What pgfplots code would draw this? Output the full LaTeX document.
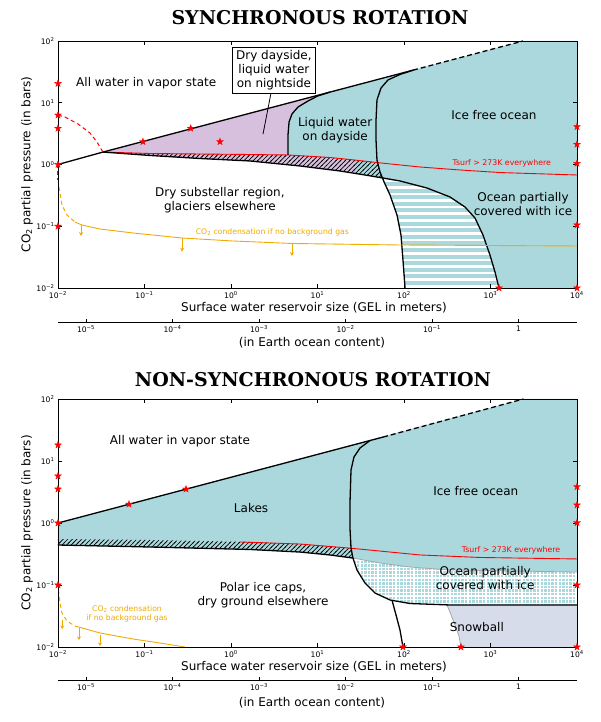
\documentclass[border=0pt]{standalone}
\usepackage{fontspec}
\setmainfont{DejaVu Sans}
\newfontfamily\titlefont{DejaVu Serif}
\usepackage{pgfplots}
\pgfplotsset{compat=1.18}
\usetikzlibrary{patterns,arrows.meta}

\definecolor{ocean}{RGB}{170,216,221}
\definecolor{lilac}{RGB}{214,192,222}
\definecolor{snowc}{RGB}{214,220,233}
\definecolor{cond}{RGB}{240,170,0}

\pgfdeclarepatternformonly{hatchNE}{\pgfqpoint{-1pt}{-1pt}}{\pgfqpoint{5.6pt}{5.6pt}}{\pgfqpoint{4.6pt}{4.6pt}}{%
  \pgfsetlinewidth{0.7pt}%
  \pgfpathmoveto{\pgfqpoint{-0.5pt}{-0.5pt}}%
  \pgfpathlineto{\pgfqpoint{5.1pt}{5.1pt}}%
  \pgfusepath{stroke}}
\pgfdeclarepatternformonly{hstripes}{\pgfqpoint{-1pt}{-2pt}}{\pgfqpoint{7.6pt}{2pt}}{\pgfqpoint{6.6pt}{6.6pt}}{%
  \pgfsetlinewidth{2.6pt}%
  \pgfpathmoveto{\pgfqpoint{-1pt}{0pt}}%
  \pgfpathlineto{\pgfqpoint{7.6pt}{0pt}}%
  \pgfusepath{stroke}}
\pgfdeclarepatternformonly{wgrid}{\pgfqpoint{-1pt}{-1pt}}{\pgfqpoint{4.6pt}{4.6pt}}{\pgfqpoint{3.6pt}{3.6pt}}{%
  \pgfsetlinewidth{1.1pt}%
  \pgfpathmoveto{\pgfqpoint{0pt}{-1pt}}\pgfpathlineto{\pgfqpoint{0pt}{4.6pt}}%
  \pgfpathmoveto{\pgfqpoint{-1pt}{0pt}}\pgfpathlineto{\pgfqpoint{4.6pt}{0pt}}%
  \pgfusepath{stroke}}

\pgfdeclareplotmark{fstar}{%
  \pgfpathmoveto{\pgfpointpolar{90}{\pgfplotmarksize}}%
  \pgfpathlineto{\pgfpointpolar{126}{0.42\pgfplotmarksize}}%
  \pgfpathlineto{\pgfpointpolar{162}{\pgfplotmarksize}}%
  \pgfpathlineto{\pgfpointpolar{198}{0.42\pgfplotmarksize}}%
  \pgfpathlineto{\pgfpointpolar{234}{\pgfplotmarksize}}%
  \pgfpathlineto{\pgfpointpolar{270}{0.42\pgfplotmarksize}}%
  \pgfpathlineto{\pgfpointpolar{306}{\pgfplotmarksize}}%
  \pgfpathlineto{\pgfpointpolar{342}{0.42\pgfplotmarksize}}%
  \pgfpathlineto{\pgfpointpolar{18}{\pgfplotmarksize}}%
  \pgfpathlineto{\pgfpointpolar{54}{0.42\pgfplotmarksize}}%
  \pgfpathclose
  \pgfusepathqfillstroke}

\newcommand{\lab}{\fontsize{12}{14}\selectfont}
\newcommand{\sml}{\fontsize{7.8}{9}\selectfont}
\newcommand{\tkf}{\fontsize{7.6}{9}\selectfont}

\begin{document}
\begin{tikzpicture}
\path[use as bounding box] (0,0) rectangle (600pt,722pt);

\begin{axis}[at={(58pt,434pt)}, anchor=south west, scale only axis, width=519pt, height=247pt,
    xmode=log, ymode=log, xmin=1e-2, xmax=1e4, ymin=1e-2, ymax=1e2,
    xtick={1e-2,1e-1,1,10,100,1000,10000},
    xticklabels={10\textsuperscript{−2},10\textsuperscript{−1},10\textsuperscript{0},10\textsuperscript{1},10\textsuperscript{2},10\textsuperscript{3},10\textsuperscript{4}},
    ytick={1e-2,1e-1,1,10,100},
    yticklabels={10\textsuperscript{−2},10\textsuperscript{−1},10\textsuperscript{0},10\textsuperscript{1},10\textsuperscript{2}},
    xminorticks=false, yminorticks=false,
    tick align=inside, major tick length=4pt,
    tick style={black, line width=0.6pt},
    axis line style={line width=0.9pt},
    ticklabel style={font=\tkf},
    axis on top, clip=false]
\addplot[fill=lilac, draw=none] coordinates {(0.0331,1.59) (13.95,14.9) (10.1,12.9) (7.76,10.67) (5.96,8.54) (5.07,6.58) (4.69,4.88) (4.56,3.0) (4.56,1.426) (1.66,1.452) (0.4385,1.479) (0.116,1.507) (0.0331,1.59)};
\addplot[fill=ocean, draw=none] coordinates {(4.56,1.426) (4.56,3.0) (4.69,4.88) (5.07,6.58) (5.96,8.54) (7.76,10.67) (10.1,12.9) (13.95,14.9) (2377,100) (10000,100) (10000,0.01) (102.8,0.01) (97.3,0.0284) (92.3,0.0721) (83.0,0.152) (68.9,0.321) (58.8,0.521) (52.8,0.757) (50,1.07) (27.2,1.18) (13.95,1.298) (4.56,1.426)};
\addplot[fill=lilac, draw=none] coordinates {(0.0331,1.59) (0.116,1.507) (0.4385,1.479) (1.66,1.452) (4.56,1.426) (13.95,1.298) (27.2,1.18) (50,1.07) (52.8,0.757) (57.2,0.604) (35.4,0.676) (18.2,0.785) (6.28,0.946) (1.66,1.14) (0.4385,1.25) (0.116,1.40) (0.0331,1.59)};
\addplot[fill=ocean, draw=none] coordinates {(27.2,1.18) (50,1.07) (52.8,0.757) (57.2,0.604) (35.4,0.676) (27.2,0.715)};
\addplot[pattern=hatchNE, pattern color=black, draw=none] coordinates {(0.0331,1.59) (0.116,1.507) (0.4385,1.479) (1.66,1.452) (4.56,1.426) (13.95,1.298) (27.2,1.18) (50,1.07) (52.8,0.757) (57.2,0.604) (35.4,0.676) (18.2,0.785) (6.28,0.946) (1.66,1.14) (0.4385,1.25) (0.116,1.40) (0.0331,1.59)};
\addplot[pattern=hstripes, pattern color=white, draw=none] coordinates {(57.2,0.604) (58.8,0.521) (68.9,0.321) (83.0,0.152) (92.3,0.0721) (97.3,0.0284) (102.8,0.01) (1254,0.01) (1127,0.01815) (986,0.0342) (819,0.0721) (662,0.136) (507,0.205) (340,0.298) (184.5,0.416) (89.9,0.541) (57.2,0.604)};
\addplot[red, line width=0.9pt] coordinates {(0.0331,1.59) (0.116,1.507) (0.4385,1.479) (1.66,1.452) (4.56,1.426) (13.95,1.298) (27.2,1.18) (50,1.07) (153,0.911) (443.6,0.815) (1288,0.741) (10000,0.676)};
\addplot[black, line width=1.3pt] coordinates {(0.01,1) (0.0331,1.59) (127,33.7)};
\addplot[black, line width=1.3pt, dash pattern=on 5pt off 3pt] coordinates {(127,33.7) (2377,100)};
\addplot[black, line width=1.3pt] coordinates {(4.56,1.426) (4.56,3.0) (4.69,4.88) (5.07,6.58) (5.96,8.54) (7.76,10.67) (10.1,12.9) (13.95,14.9)};
\addplot[black, line width=1.3pt] coordinates {(0.0331,1.59) (0.116,1.40) (0.4385,1.25) (1.66,1.14) (6.28,0.946) (18.2,0.785) (35.4,0.676) (57.2,0.604) (89.9,0.541) (184.5,0.416) (340,0.298) (507,0.205) (662,0.136) (819,0.0721) (986,0.0342) (1127,0.01815) (1254,0.01)};
\addplot[black, line width=1.3pt] coordinates {(127,33.7) (89.9,28.7) (65.3,23.4) (54.2,17.3) (48.7,11.1) (47.5,5.26) (47.5,2.49) (48.7,1.18) (52.8,0.757) (58.8,0.521) (68.9,0.321) (83.0,0.152) (92.3,0.0721) (97.3,0.0284) (102.8,0.01)};
\addplot[cond, line width=0.9pt] coordinates {(0.01574,0.117) (0.01892,0.1047) (0.0306,0.0902) (0.0736,0.0778) (0.2716,0.0645) (1.054,0.0577) (5.07,0.0526) (89.9,0.0497) (10000,0.0479)};
\addplot[cond, line width=0.9pt, -{Stealth[length=4pt,width=4pt]}] coordinates {(0.01845,0.105) (0.01845,0.0695)};
\addplot[cond, line width=0.9pt, -{Stealth[length=4pt,width=4pt]}] coordinates {(0.2716,0.0645) (0.2716,0.0387)};
\addplot[cond, line width=0.9pt, -{Stealth[length=4pt,width=4pt]}] coordinates {(5.07,0.0526) (5.07,0.033)};
\addplot[red, line width=1pt, dash pattern=on 4pt off 3pt] coordinates {(0.01,6.3) (0.01205,5.88) (0.0170,4.53) (0.02344,3.24) (0.02825,2.31) (0.0331,1.59)};
\addplot[red, line width=1pt, dash pattern=on 4pt off 3pt] coordinates {(0.01,1) (0.01,0.56)};
\addplot[cond, line width=1pt, dash pattern=on 4pt off 3pt] coordinates {(0.01027,0.432) (0.01112,0.221) (0.0127,0.152) (0.01574,0.117)};
\addplot[only marks, mark=fstar, mark size=3.6pt, red, mark options={fill=red, draw=red, line width=0.3pt}] coordinates {(0.01,20.5) (0.01,6.3) (0.01,3.85) (0.01,1) (0.01,0.1) (0.096,2.34) (0.342,3.85) (0.746,2.34) (10000,4.1) (10000,2.12) (10000,1.04) (10000,0.105) (10000,0.01) (1254,0.01)};
\node[font=\lab] at (rel axis cs:0.170,0.830) {All water in vapor state};
\draw[black, line width=0.8pt] (rel axis cs:0.410,0.785) -- (rel axis cs:0.395,0.623);
\node[font=\lab, align=center, draw=black, fill=white, line width=0.8pt, inner sep=3.5pt] at (rel axis cs:0.416,0.881) {Dry dayside,\\liquid water\\on nightside};
\node[font=\lab, align=center] at (rel axis cs:0.534,0.640) {Liquid water\\on dayside};
\node[font=\lab] at (rel axis cs:0.840,0.700) {Ice free ocean};
\node[font=\sml, text=red] at (rel axis cs:0.855,0.506) {Tsurf > 273K everywhere};
\node[font=\lab, align=center] at (rel axis cs:0.896,0.340) {Ocean partially\\covered with ice};
\node[font=\lab, align=center] at (rel axis cs:0.312,0.356) {Dry substellar region,\\glaciers elsewhere};
\node[font=\fontsize{7.7}{9}\selectfont, text=cond] at (rel axis cs:0.413,0.227) {CO\textsubscript{2} condensation if no background gas};
\end{axis}

\begin{axis}[at={(58pt,400pt)}, anchor=south west, scale only axis, width=519pt, height=20pt,
    xmode=log, xmin=4.742e-6, xmax=4.742, ymin=0, ymax=1,
    axis x line*=bottom, axis y line=none,
    xtick={1e-5,1e-4,1e-3,1e-2,1e-1,1},
    xticklabels={10\textsuperscript{−5},10\textsuperscript{−4},10\textsuperscript{−3},10\textsuperscript{−2},10\textsuperscript{−1},1},
    xminorticks=false, tick align=inside, major tick length=3pt,
    tick style={black, line width=0.6pt},
    axis line style={line width=0.9pt},
    ticklabel style={font=\tkf}]
\addplot[draw=none] coordinates {(1e-3,0.5)};
\end{axis}

\node[font=\titlefont\bfseries\fontsize{19}{22}\selectfont] at (320pt,704pt) {SYNCHRONOUS ROTATION};
\node[font=\lab, rotate=90] at (27pt,557.5pt) {CO\textsubscript{2} partial pressure (in bars)};
\node[font=\lab] at (314pt,414pt) {Surface water reservoir size (GEL in meters)};
\node[font=\lab] at (312pt,379pt) {(in Earth ocean content)};

\begin{axis}[at={(58pt,75pt)}, anchor=south west, scale only axis, width=519pt, height=248pt,
    xmode=log, ymode=log, xmin=1e-2, xmax=1e4, ymin=1e-2, ymax=1e2,
    xtick={1e-2,1e-1,1,10,100,1000,10000},
    xticklabels={10\textsuperscript{−2},10\textsuperscript{−1},10\textsuperscript{0},10\textsuperscript{1},10\textsuperscript{2},10\textsuperscript{3},10\textsuperscript{4}},
    ytick={1e-2,1e-1,1,10,100},
    yticklabels={10\textsuperscript{−2},10\textsuperscript{−1},10\textsuperscript{0},10\textsuperscript{1},10\textsuperscript{2}},
    xminorticks=false, yminorticks=false,
    tick align=inside, major tick length=4pt,
    tick style={black, line width=0.6pt},
    axis line style={line width=0.9pt},
    ticklabel style={font=\tkf},
    axis on top, clip=false]
\addplot[fill=ocean, draw=none] coordinates {(0.01,1) (2400,100) (10000,100) (10000,0.0476) (340,0.0476) (117,0.0503) (68.9,0.0573) (46.2,0.0743) (35.4,0.1077) (28.6,0.1746) (25.7,0.272) (13.95,0.305) (6.28,0.340) (1.66,0.374) (0.116,0.410) (0.01,0.4416) (0.01,1)};
\addplot[pattern=hatchNE, pattern color=black, draw=none] coordinates {(0.01,0.552) (0.116,0.532) (1.66,0.494) (6.28,0.458) (24.4,0.392) (25.7,0.272) (13.95,0.305) (6.28,0.340) (1.66,0.374) (0.116,0.410) (0.01,0.4416) (0.01,0.552)};
\addplot[pattern=wgrid, pattern color=white, draw=none] coordinates {(25.7,0.272) (52.8,0.2264) (117,0.195) (340,0.1746) (10000,0.162) (10000,0.0476) (340,0.0476) (117,0.0503) (68.9,0.0573) (46.2,0.0743) (35.4,0.1077) (28.6,0.1746) (25.7,0.272)};
\addplot[fill=snowc, draw=none] coordinates {(314,0.0476) (340,0.0367) (389,0.0226) (432,0.0150) (456,0.01) (10000,0.01) (10000,0.0476) (314,0.0476)};
\addplot[gray!70, line width=0.8pt] coordinates {(314,0.0476) (340,0.0367) (389,0.0226) (432,0.0150) (456,0.01)};
\addplot[gray!70, line width=0.8pt] coordinates {(25.7,0.272) (52.8,0.2264) (117,0.195) (340,0.1746) (10000,0.162)};
\addplot[red, line width=0.9pt] coordinates {(1.27,0.494) (6.28,0.458) (24.4,0.392) (153,0.305) (757,0.278) (10000,0.263)};
\addplot[black, line width=1.3pt] coordinates {(0.01,1) (57.2,24.3)};
\addplot[black, line width=1.3pt, dash pattern=on 5pt off 3pt] coordinates {(57.2,24.3) (2400,100)};
\addplot[black, line width=1.3pt] coordinates {(0.01,0.4416) (0.116,0.410) (1.66,0.374) (6.28,0.340) (13.95,0.305) (25.7,0.272)};
\addplot[black, line width=1.3pt] coordinates {(40.5,21.4) (31.0,16.2) (26.4,11.6) (24.4,7.16) (23.8,2.35) (23.8,0.771) (24.4,0.395) (25.7,0.272) (28.6,0.1746) (35.4,0.1077) (46.2,0.0743) (68.9,0.0573) (117,0.0503) (340,0.0476) (10000,0.0476)};
\addplot[black, line width=1.3pt] coordinates {(72.6,0.0573) (80.9,0.0328) (89.9,0.0188) (97.3,0.01)};
\addplot[cond, line width=1pt, dash pattern=on 4pt off 3pt] coordinates {(0.01013,0.083) (0.01054,0.0513) (0.01112,0.0353) (0.0127,0.0262) (0.01574,0.0218)};
\addplot[cond, line width=0.9pt] coordinates {(0.01574,0.0218) (0.0306,0.01683) (0.0736,0.01346) (0.151,0.0116) (0.294,0.01)};
\addplot[cond, line width=0.9pt, -{Stealth[length=3.5pt,width=4pt]}] coordinates {(0.0112,0.027) (0.0112,0.0195)};
\addplot[cond, line width=0.9pt, -{Stealth[length=3.5pt,width=4pt]}] coordinates {(0.0175,0.0202) (0.0175,0.013)};
\addplot[cond, line width=0.9pt, -{Stealth[length=3.5pt,width=4pt]}] coordinates {(0.0306,0.0156) (0.0306,0.0104)};
\addplot[only marks, mark=fstar, mark size=3.6pt, red, mark options={fill=red, draw=red, line width=0.3pt}] coordinates {(0.01,18.1) (0.01,5.73) (0.01,3.53) (0.01,1) (0.01,0.1) (0.0662,2.01) (0.302,3.52) (10000,3.85) (10000,1.95) (10000,1.01) (10000,0.1) (10000,0.01) (97.3,0.01) (456,0.01)};
\node[font=\lab] at (rel axis cs:0.235,0.831) {All water in vapor state};
\node[font=\lab] at (rel axis cs:0.372,0.560) {Lakes};
\node[font=\lab] at (rel axis cs:0.805,0.629) {Ice free ocean};
\node[font=\sml, text=red] at (rel axis cs:0.873,0.391) {Tsurf > 273K everywhere};
\node[font=\lab, align=center] at (rel axis cs:0.823,0.278) {Ocean partially\\covered with ice};
\node[font=\lab, align=center] at (rel axis cs:0.395,0.210) {Polar ice caps,\\dry ground elsewhere};
\node[font=\lab] at (rel axis cs:0.807,0.081) {Snowball};
\node[font=\fontsize{7.7}{9.5}\selectfont, text=cond, align=center] at (rel axis cs:0.133,0.133) {CO\textsubscript{2} condensation\\if no background gas};
\end{axis}

\begin{axis}[at={(58pt,42pt)}, anchor=south west, scale only axis, width=519pt, height=20pt,
    xmode=log, xmin=4.742e-6, xmax=4.742, ymin=0, ymax=1,
    axis x line*=bottom, axis y line=none,
    xtick={1e-5,1e-4,1e-3,1e-2,1e-1,1},
    xticklabels={10\textsuperscript{−5},10\textsuperscript{−4},10\textsuperscript{−3},10\textsuperscript{−2},10\textsuperscript{−1},1},
    xminorticks=false, tick align=inside, major tick length=3pt,
    tick style={black, line width=0.6pt},
    axis line style={line width=0.9pt},
    ticklabel style={font=\tkf}]
\addplot[draw=none] coordinates {(1e-3,0.5)};
\end{axis}

\node[font=\titlefont\bfseries\fontsize{19}{22}\selectfont] at (313pt,342pt) {NON-SYNCHRONOUS ROTATION};
\node[font=\lab, rotate=90] at (27pt,199pt) {CO\textsubscript{2} partial pressure (in bars)};
\node[font=\lab] at (314pt,55pt) {Surface water reservoir size (GEL in meters)};
\node[font=\lab] at (312pt,19pt) {(in Earth ocean content)};
\end{tikzpicture}
\end{document}
